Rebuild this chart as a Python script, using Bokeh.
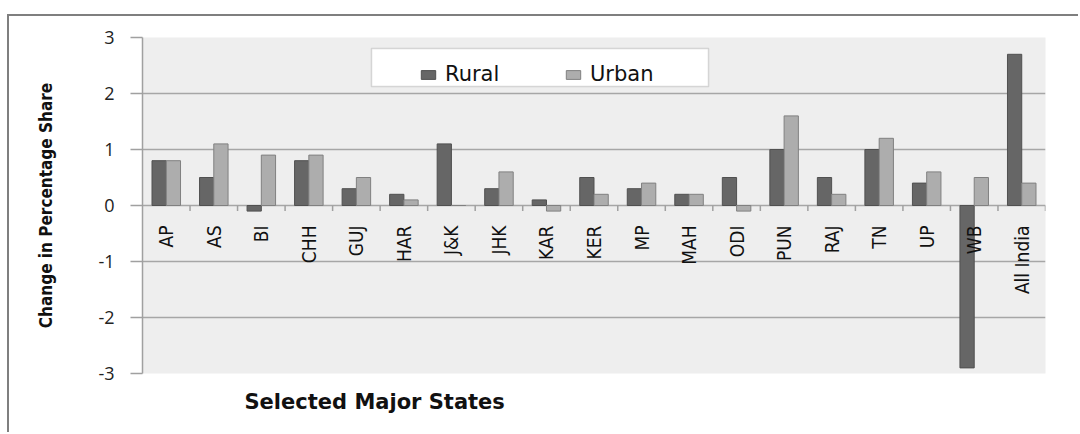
import numpy as np
from bokeh.plotting import figure
from bokeh.models import (Range1d, ColumnDataSource, Legend, LegendItem, Title,
                          FixedTicker, BoxAnnotation)
from bokeh.core.properties import value
from bokeh.embed import file_html
from bokeh.resources import INLINE

states = ["AP", "AS", "BI", "CHH", "GUJ", "HAR", "J&K", "JHK", "KAR", "KER",
          "MP", "MAH", "ODI", "PUN", "RAJ", "TN", "UP", "WB", "All India"]
rural = [0.8, 0.5, -0.1, 0.8, 0.3, 0.2, 1.1, 0.3, 0.1, 0.5,
         0.3, 0.2, 0.5, 1.0, 0.5, 1.0, 0.4, -2.9, 2.7]
urban = [0.8, 1.1, 0.9, 0.9, 0.5, 0.1, 0.0, 0.6, -0.1, 0.2,
         0.4, 0.2, -0.1, 1.6, 0.2, 1.2, 0.6, 0.5, 0.4]
y_ticks = [-3, -2, -1, 0, 1, 2, 3]

COND = value("'DejaVu Sans Condensed', 'Liberation Sans', sans-serif")

n = len(states)
idx = np.arange(n)
bar_w = 0.3
src = ColumnDataSource(dict(
    xr=idx + 0.5 - bar_w / 2,
    xu=idx + 0.5 + bar_w / 2,
    xl=idx + 0.5,
    y0=np.zeros(n),
    rural=rural, urban=urban, states=states,
))

p = figure(width=1071, height=418, x_range=Range1d(0, n), y_range=Range1d(-3, 3),
           output_backend="svg", toolbar_location=None,
           min_border_left=133, min_border_top=21, min_border_right=35, min_border_bottom=61)
p.styles = {"border-top": "2px solid #7f7f7f", "border-left": "2px solid #7f7f7f",
            "margin-top": "14px", "margin-left": "7px"}
p.background_fill_color = "#eeeeee"
p.border_fill_color = "white"
p.outline_line_color = None
p.xaxis.visible = False
p.xgrid.visible = False
p.ygrid.grid_line_color = "#a6a6a6"
p.ygrid.grid_line_width = 1.5

ya = p.yaxis[0]
ya.ticker = FixedTicker(ticks=y_ticks)
ya.major_label_overrides = {t: str(t) for t in y_ticks}
ya.major_tick_out = 12
ya.major_tick_in = 0
ya.minor_tick_line_color = None
ya.axis_line_color = "#a0a0a0"
ya.axis_line_width = 1.5
ya.major_tick_line_color = "#a0a0a0"
ya.major_tick_line_width = 1.5
ya.major_label_text_font = "Open Sans"
ya.major_label_text_font_size = "18px"
ya.major_label_text_color = "#222222"
ya.major_label_standoff = 16
ya.axis_label = "Change in Percentage Share"
ya.axis_label_text_font = "'DejaVu Sans Condensed', 'Liberation Sans', sans-serif"
ya.axis_label_text_font_style = "bold"
ya.axis_label_text_font_size = "17px"
ya.axis_label_text_color = "#111111"
ya.axis_label_standoff = 39

# category tick marks along the zero line
bounds = list(range(1, n + 1))
p.segment(x0=bounds, y0=[0] * n, x1=bounds, y1=[-0.1] * n, line_color="#a0a0a0", line_width=1.5)

r1 = p.vbar(x="xr", top="rural", bottom="y0", width=bar_w, source=src,
            fill_color="#666666", line_color="#505050", line_width=1)
r2 = p.vbar(x="xu", top="urban", bottom="y0", width=bar_w, source=src,
            fill_color="#adadad", line_color="#808080", line_width=1)

p.text(x="xl", y="y0", text="states", source=src, angle=np.pi / 2,
       text_align="right", text_baseline="middle", y_offset=20,
       text_font=COND, text_font_size="19px", text_color="#111111")

# legend frame
box = BoxAnnotation(left=229, right=566, bottom=287, top=325,
                    left_units="screen", right_units="screen",
                    bottom_units="screen", top_units="screen",
                    fill_color="white", fill_alpha=1,
                    line_color="#888888", line_width=1.5)
p.add_layout(box)

legend = Legend(items=[LegendItem(label="Rural", renderers=[r1]),
                       LegendItem(label="Urban", renderers=[r2])],
                orientation="horizontal", location=(277, 287),
                padding=9, spacing=39, margin=0,
                glyph_width=18, glyph_height=11, label_standoff=8,
                label_width=80, label_height=20,
                label_text_font="DejaVu Sans", label_text_font_size="21px",
                label_text_color="#111111",
                border_line_color=None,
                background_fill_alpha=0)
p.add_layout(legend)

t = Title(text="Selected Major States", align="left", offset=102,
          text_font="DejaVu Sans", text_font_style="bold", text_font_size="21px",
          text_color="#111111", standoff=28)
p.add_layout(t, "below")

open("out.html", "w").write(file_html(p, INLINE))
